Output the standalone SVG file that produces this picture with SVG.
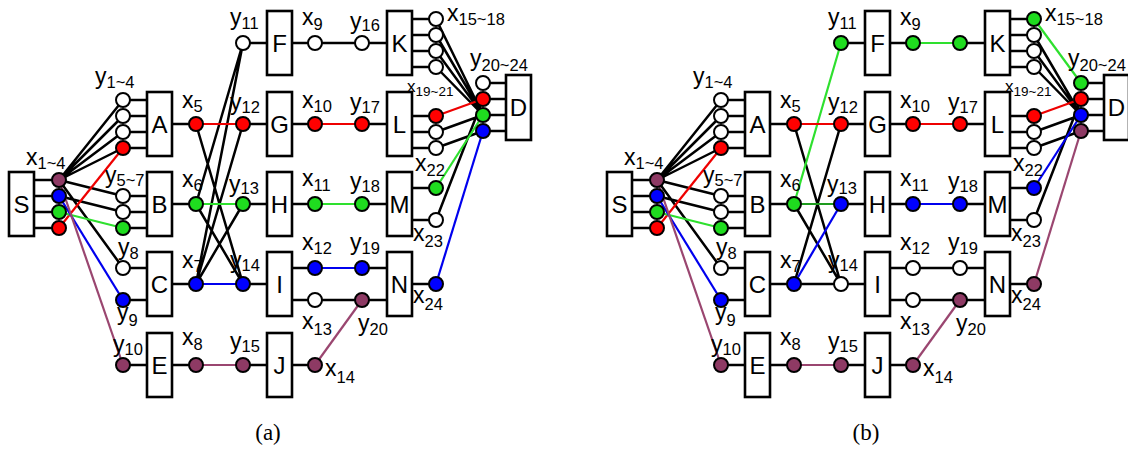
<svg xmlns="http://www.w3.org/2000/svg" width="1128" height="449" viewBox="0 0 1128 449">
<style>
.bx{fill:#fff;stroke:#000;stroke-width:2.6}
.bt{font-family:"Liberation Sans",Arial,sans-serif;font-size:24px;text-anchor:middle}
.l{font-family:"Liberation Sans",Arial,sans-serif;font-size:23px}
.s{font-size:16.5px}
.ls{font-family:"Liberation Sans",Arial,sans-serif;font-size:17px}
.ss{font-size:13.5px}
.cap{font-family:"Liberation Serif","DejaVu Serif",serif;font-size:23px;text-anchor:middle}
.st{stroke:#000;stroke-width:2.5;fill:none}
.k{stroke:#000;stroke-width:2.5;fill:none}
.cr{stroke:#ee0000;stroke-width:2.2;fill:none}
.cg{stroke:#2ee02e;stroke-width:2.2;fill:none}
.cdg{stroke:#1e9a1e;stroke-width:2.2;fill:none}
.cb{stroke:#0000ee;stroke-width:2.2;fill:none}
.cp{stroke:#9a4670;stroke-width:2.2;fill:none}
circle{stroke:#000;stroke-width:2;r:7}
.w{fill:#fff}.r{fill:#ff0000}.g{fill:#1fdc1f}.b{fill:#0000ff}.p{fill:#8e3a64}
</style>

<!-- ================= PANEL (a) ================= -->
<g id="panel-a">
<g id="a-connectors">
<path class="k" d="M59 180L123 100M59 180L123 116M59 180L123 132M59 180L123 148M59 180L123 196M59 196L123 212M59 180L123 268"/>
<path class="cr" d="M59 228L123 148"/>
<path class="cg" d="M59 212L123 228"/>
<path class="cb" d="M59 196L123 300"/>
<path class="cp" d="M59 180L123 365"/>
<path class="k" d="M196 204L243 43M196 284L243 43M196 124L243 284M196 204L243 284M196 284L243 124M196 284L243 204"/>
<path class="cr" d="M196 124H243"/>
<path class="cg" d="M196 204H243"/>
<path class="cb" d="M196 284H243"/>
<path class="cp" d="M196 365H243"/>
<path class="k" d="M315 43H362M315 300H362"/>
<path class="cr" d="M315 124H362"/>
<path class="cg" d="M315 204H362"/>
<path class="cb" d="M315 268H362"/>
<path class="cp" d="M315 365L362 300"/>
<path class="k" d="M436 19L483 115M436 35L483 115M436 51L483 115M436 67L483 115M436 132L483 115M436 148L483 131M436 220L483 99"/>
<path class="cr" d="M436 116L483 99"/>
<path class="cg" d="M436 188L483 115"/>
<path class="cb" d="M436 284L483 131"/>
</g>

<g id="a-S">
<path class="st" d="M34 180H59M34 196H59M34 212H59M34 228H59"/>
<rect class="bx" x="9" y="172" width="25" height="64"/>
<text class="bt" x="21.5" y="212.5">S</text>
<circle class="p" cx="59" cy="180"/><circle class="b" cx="59" cy="196"/><circle class="g" cx="59" cy="212"/><circle class="r" cx="59" cy="228"/>
</g>
<g id="a-A">
<path class="st" d="M123 100H147M123 116H147M123 132H147M123 148H147M172 124H196"/>
<rect class="bx" x="147" y="92" width="25" height="64"/>
<text class="bt" x="159.5" y="132.5">A</text>
<circle class="w" cx="123" cy="100"/><circle class="w" cx="123" cy="116"/><circle class="w" cx="123" cy="132"/><circle class="r" cx="123" cy="148"/>
<circle class="r" cx="196" cy="124"/>
</g>
<g id="a-B">
<path class="st" d="M123 196H147M123 212H147M123 228H147M172 204H196"/>
<rect class="bx" x="147" y="172" width="25" height="64"/>
<text class="bt" x="159.5" y="212.5">B</text>
<circle class="w" cx="123" cy="196"/><circle class="w" cx="123" cy="212"/><circle class="g" cx="123" cy="228"/>
<circle class="g" cx="196" cy="204"/>
</g>
<g id="a-C">
<path class="st" d="M123 268H147M123 300H147M172 284H196"/>
<rect class="bx" x="147" y="252" width="25" height="64"/>
<text class="bt" x="159.5" y="292.5">C</text>
<circle class="w" cx="123" cy="268"/><circle class="b" cx="123" cy="300"/>
<circle class="b" cx="196" cy="284"/>
</g>
<g id="a-E">
<path class="st" d="M123 365H147M172 365H196"/>
<rect class="bx" x="147" y="333" width="25" height="64"/>
<text class="bt" x="159.5" y="373.5">E</text>
<circle class="p" cx="123" cy="365"/><circle class="p" cx="196" cy="365"/>
</g>
<g id="a-F">
<path class="st" d="M243 43H267M292 43H315"/>
<rect class="bx" x="267" y="11" width="25" height="64"/>
<text class="bt" x="279.5" y="51.5">F</text>
<circle class="w" cx="243" cy="43"/><circle class="w" cx="315" cy="43"/>
</g>
<g id="a-G">
<path class="st" d="M243 124H267M292 124H315"/>
<rect class="bx" x="267" y="92" width="25" height="64"/>
<text class="bt" x="279.5" y="132.5">G</text>
<circle class="r" cx="243" cy="124"/><circle class="r" cx="315" cy="124"/>
</g>
<g id="a-H">
<path class="st" d="M243 204H267M292 204H315"/>
<rect class="bx" x="267" y="172" width="25" height="64"/>
<text class="bt" x="279.5" y="212.5">H</text>
<circle class="g" cx="243" cy="204"/><circle class="g" cx="315" cy="204"/>
</g>
<g id="a-I">
<path class="st" d="M243 284H267M292 268H315M292 300H315"/>
<rect class="bx" x="267" y="252" width="25" height="64"/>
<text class="bt" x="279.5" y="292.5">I</text>
<circle class="b" cx="243" cy="284"/><circle class="b" cx="315" cy="268"/><circle class="w" cx="315" cy="300"/>
</g>
<g id="a-J">
<path class="st" d="M243 365H267M292 365H315"/>
<rect class="bx" x="267" y="333" width="25" height="64"/>
<text class="bt" x="279.5" y="373.5">J</text>
<circle class="p" cx="243" cy="365"/><circle class="p" cx="315" cy="365"/>
</g>
<g id="a-K">
<path class="st" d="M362 43H387M412 19H436M412 35H436M412 51H436M412 67H436"/>
<rect class="bx" x="387" y="11" width="25" height="64"/>
<text class="bt" x="399.5" y="51.5">K</text>
<circle class="w" cx="362" cy="43"/>
<circle class="w" cx="436" cy="19"/><circle class="w" cx="436" cy="35"/><circle class="w" cx="436" cy="51"/><circle class="w" cx="436" cy="67"/>
</g>
<g id="a-L">
<path class="st" d="M362 124H387M412 116H436M412 132H436M412 148H436"/>
<rect class="bx" x="387" y="92" width="25" height="64"/>
<text class="bt" x="399.5" y="132.5">L</text>
<circle class="r" cx="362" cy="124"/>
<circle class="r" cx="436" cy="116"/><circle class="w" cx="436" cy="132"/><circle class="w" cx="436" cy="148"/>
</g>
<g id="a-M">
<path class="st" d="M362 204H387M412 188H436M412 220H436"/>
<rect class="bx" x="387" y="172" width="25" height="64"/>
<text class="bt" x="399.5" y="212.5">M</text>
<circle class="g" cx="362" cy="204"/>
<circle class="g" cx="436" cy="188"/><circle class="w" cx="436" cy="220"/>
</g>
<g id="a-N">
<path class="st" d="M362 268H387M362 300H387M412 284H436"/>
<rect class="bx" x="387" y="252" width="25" height="64"/>
<text class="bt" x="399.5" y="292.5">N</text>
<circle class="b" cx="362" cy="268"/><circle class="p" cx="362" cy="300"/>
<circle class="b" cx="436" cy="284"/>
</g>
<g id="a-D">
<path class="st" d="M483 83H506M483 99H506M483 115H506M483 131H506"/>
<rect class="bx" x="506" y="75" width="25" height="65"/>
<text class="bt" x="518.5" y="116">D</text>
<circle class="w" cx="483" cy="83"/><circle class="r" cx="483" cy="99"/><circle class="g" cx="483" cy="115"/><circle class="b" cx="483" cy="131"/>
</g>

<g id="a-labels">
<text class="l" x="26" y="165">x<tspan class="s" dy="4">1~4</tspan></text>
<text class="l" x="95" y="84">y<tspan class="s" dy="4">1~4</tspan></text>
<text class="l" x="105" y="183">y<tspan class="s" dy="3">5~7</tspan></text>
<text class="l" x="118" y="255">y<tspan class="s" dy="4">8</tspan></text>
<text class="l" x="117" y="320">y<tspan class="s" dy="6">9</tspan></text>
<text class="l" x="113" y="352">y<tspan class="s" dy="3">10</tspan></text>
<text class="l" x="182" y="108">x<tspan class="s" dy="4">5</tspan></text>
<text class="l" x="182" y="187">x<tspan class="s" dy="4">6</tspan></text>
<text class="l" x="182" y="268">x<tspan class="s" dy="4">7</tspan></text>
<text class="l" x="182" y="345">x<tspan class="s" dy="5">8</tspan></text>
<text class="l" x="230" y="25">y<tspan class="s" dy="4">11</tspan></text>
<text class="l" x="230" y="110">y<tspan class="s" dy="3">12</tspan></text>
<text class="l" x="229" y="192">y<tspan class="s" dy="2">13</tspan></text>
<text class="l" x="230" y="268">y<tspan class="s" dy="3">14</tspan></text>
<text class="l" x="230" y="349">y<tspan class="s" dy="3">15</tspan></text>
<text class="l" x="302" y="25">x<tspan class="s" dy="5">9</tspan></text>
<text class="l" x="302" y="108">x<tspan class="s" dy="4">10</tspan></text>
<text class="l" x="302" y="186">x<tspan class="s" dy="5">11</tspan></text>
<text class="l" x="302" y="250">x<tspan class="s" dy="4">12</tspan></text>
<text class="l" x="302" y="329">x<tspan class="s" dy="6">13</tspan></text>
<text class="l" x="325" y="376">x<tspan class="s" dy="7">14</tspan></text>
<text class="l" x="350" y="29">y<tspan class="s" dy="2">16</tspan></text>
<text class="l" x="350" y="110">y<tspan class="s" dy="3">17</tspan></text>
<text class="l" x="350" y="189">y<tspan class="s" dy="3">18</tspan></text>
<text class="l" x="350" y="250">y<tspan class="s" dy="4">19</tspan></text>
<text class="l" x="358" y="331">y<tspan class="s" dy="4">20</tspan></text>
<text class="l" x="447" y="21">x<tspan class="s" dy="4">15~18</tspan></text>
<text class="l" x="470" y="66">y<tspan class="s" dy="5">20~24</tspan></text>
<text class="ls" x="407" y="92">x<tspan class="ss" dy="4">19~21</tspan></text>
<text class="l" x="415" y="171">x<tspan class="s" dy="5">22</tspan></text>
<text class="l" x="413" y="241">x<tspan class="s" dy="6">23</tspan></text>
<text class="l" x="413" y="303">x<tspan class="s" dy="7">24</tspan></text>
</g>
<text class="cap" x="268" y="440">(a)</text>
</g>

<!-- ================= PANEL (b) ================= -->
<g id="panel-b" transform="translate(598,0)">
<g id="b-connectors">
<path class="k" d="M59 180L123 100M59 180L123 116M59 180L123 132M59 180L123 148M59 180L123 196M59 196L123 212M59 180L123 268"/>
<path class="cr" d="M59 228L123 148"/>
<path class="cg" d="M59 212L123 228"/>
<path class="cb" d="M59 196L123 300"/>
<path class="cp" d="M59 180L123 365"/>
<path class="k" d="M196 124L243 284M196 204L243 284M196 284L243 124M196 284H243"/>
<path class="cg" d="M196 204L243 43"/>
<path class="cdg" d="M196 204H243"/>
<path class="cb" d="M196 284L243 204"/>
<path class="cr" d="M196 124H243"/>
<path class="cp" d="M196 365H243"/>
<path class="cg" d="M315 43H362"/>
<path class="cr" d="M315 124H362"/>
<path class="cb" d="M315 204H362"/>
<path class="k" d="M315 268H362M315 300H362"/>
<path class="cp" d="M315 365L362 300"/>
<path class="cg" d="M436 19L483 83"/>
<path class="k" d="M436 35L483 115M436 51L483 115M436 67L483 115M436 132L483 115M436 148L483 131M436 220L483 99"/>
<path class="cr" d="M436 116L483 99"/>
<path class="cb" d="M436 188L483 115"/>
<path class="cp" d="M436 284L483 131"/>
</g>

<g id="b-S">
<path class="st" d="M34 180H59M34 196H59M34 212H59M34 228H59"/>
<rect class="bx" x="9" y="172" width="25" height="64"/>
<text class="bt" x="21.5" y="212.5">S</text>
<circle class="p" cx="59" cy="180"/><circle class="b" cx="59" cy="196"/><circle class="g" cx="59" cy="212"/><circle class="r" cx="59" cy="228"/>
</g>
<g id="b-A">
<path class="st" d="M123 100H147M123 116H147M123 132H147M123 148H147M172 124H196"/>
<rect class="bx" x="147" y="92" width="25" height="64"/>
<text class="bt" x="159.5" y="132.5">A</text>
<circle class="w" cx="123" cy="100"/><circle class="w" cx="123" cy="116"/><circle class="w" cx="123" cy="132"/><circle class="r" cx="123" cy="148"/>
<circle class="r" cx="196" cy="124"/>
</g>
<g id="b-B">
<path class="st" d="M123 196H147M123 212H147M123 228H147M172 204H196"/>
<rect class="bx" x="147" y="172" width="25" height="64"/>
<text class="bt" x="159.5" y="212.5">B</text>
<circle class="w" cx="123" cy="196"/><circle class="w" cx="123" cy="212"/><circle class="g" cx="123" cy="228"/>
<circle class="g" cx="196" cy="204"/>
</g>
<g id="b-C">
<path class="st" d="M123 268H147M123 300H147M172 284H196"/>
<rect class="bx" x="147" y="252" width="25" height="64"/>
<text class="bt" x="159.5" y="292.5">C</text>
<circle class="w" cx="123" cy="268"/><circle class="b" cx="123" cy="300"/>
<circle class="b" cx="196" cy="284"/>
</g>
<g id="b-E">
<path class="st" d="M123 365H147M172 365H196"/>
<rect class="bx" x="147" y="333" width="25" height="64"/>
<text class="bt" x="159.5" y="373.5">E</text>
<circle class="p" cx="123" cy="365"/><circle class="p" cx="196" cy="365"/>
</g>
<g id="b-F">
<path class="st" d="M243 43H267M292 43H315"/>
<rect class="bx" x="267" y="11" width="25" height="64"/>
<text class="bt" x="279.5" y="51.5">F</text>
<circle class="g" cx="243" cy="43"/><circle class="g" cx="315" cy="43"/>
</g>
<g id="b-G">
<path class="st" d="M243 124H267M292 124H315"/>
<rect class="bx" x="267" y="92" width="25" height="64"/>
<text class="bt" x="279.5" y="132.5">G</text>
<circle class="r" cx="243" cy="124"/><circle class="r" cx="315" cy="124"/>
</g>
<g id="b-H">
<path class="st" d="M243 204H267M292 204H315"/>
<rect class="bx" x="267" y="172" width="25" height="64"/>
<text class="bt" x="279.5" y="212.5">H</text>
<circle class="b" cx="243" cy="204"/><circle class="b" cx="315" cy="204"/>
</g>
<g id="b-I">
<path class="st" d="M243 284H267M292 268H315M292 300H315"/>
<rect class="bx" x="267" y="252" width="25" height="64"/>
<text class="bt" x="279.5" y="292.5">I</text>
<circle class="w" cx="243" cy="284"/><circle class="w" cx="315" cy="268"/><circle class="w" cx="315" cy="300"/>
</g>
<g id="b-J">
<path class="st" d="M243 365H267M292 365H315"/>
<rect class="bx" x="267" y="333" width="25" height="64"/>
<text class="bt" x="279.5" y="373.5">J</text>
<circle class="p" cx="243" cy="365"/><circle class="p" cx="315" cy="365"/>
</g>
<g id="b-K">
<path class="st" d="M362 43H387M412 19H436M412 35H436M412 51H436M412 67H436"/>
<rect class="bx" x="387" y="11" width="25" height="64"/>
<text class="bt" x="399.5" y="51.5">K</text>
<circle class="g" cx="362" cy="43"/>
<circle class="g" cx="436" cy="19"/><circle class="w" cx="436" cy="35"/><circle class="w" cx="436" cy="51"/><circle class="w" cx="436" cy="67"/>
</g>
<g id="b-L">
<path class="st" d="M362 124H387M412 116H436M412 132H436M412 148H436"/>
<rect class="bx" x="387" y="92" width="25" height="64"/>
<text class="bt" x="399.5" y="132.5">L</text>
<circle class="r" cx="362" cy="124"/>
<circle class="r" cx="436" cy="116"/><circle class="w" cx="436" cy="132"/><circle class="w" cx="436" cy="148"/>
</g>
<g id="b-M">
<path class="st" d="M362 204H387M412 188H436M412 220H436"/>
<rect class="bx" x="387" y="172" width="25" height="64"/>
<text class="bt" x="399.5" y="212.5">M</text>
<circle class="b" cx="362" cy="204"/>
<circle class="b" cx="436" cy="188"/><circle class="w" cx="436" cy="220"/>
</g>
<g id="b-N">
<path class="st" d="M362 268H387M362 300H387M412 284H436"/>
<rect class="bx" x="387" y="252" width="25" height="64"/>
<text class="bt" x="399.5" y="292.5">N</text>
<circle class="w" cx="362" cy="268"/><circle class="p" cx="362" cy="300"/>
<circle class="p" cx="436" cy="284"/>
</g>
<g id="b-D">
<path class="st" d="M483 83H506M483 99H506M483 115H506M483 131H506"/>
<rect class="bx" x="506" y="75" width="25" height="65"/>
<text class="bt" x="518.5" y="116">D</text>
<circle class="g" cx="483" cy="83"/><circle class="r" cx="483" cy="99"/><circle class="b" cx="483" cy="115"/><circle class="p" cx="483" cy="131"/>
</g>

<g id="b-labels">
<text class="l" x="26" y="165">x<tspan class="s" dy="4">1~4</tspan></text>
<text class="l" x="95" y="84">y<tspan class="s" dy="4">1~4</tspan></text>
<text class="l" x="105" y="183">y<tspan class="s" dy="3">5~7</tspan></text>
<text class="l" x="118" y="255">y<tspan class="s" dy="4">8</tspan></text>
<text class="l" x="117" y="320">y<tspan class="s" dy="6">9</tspan></text>
<text class="l" x="113" y="352">y<tspan class="s" dy="3">10</tspan></text>
<text class="l" x="182" y="108">x<tspan class="s" dy="4">5</tspan></text>
<text class="l" x="182" y="187">x<tspan class="s" dy="4">6</tspan></text>
<text class="l" x="182" y="268">x<tspan class="s" dy="4">7</tspan></text>
<text class="l" x="182" y="345">x<tspan class="s" dy="5">8</tspan></text>
<text class="l" x="230" y="25">y<tspan class="s" dy="4">11</tspan></text>
<text class="l" x="230" y="110">y<tspan class="s" dy="3">12</tspan></text>
<text class="l" x="229" y="192">y<tspan class="s" dy="2">13</tspan></text>
<text class="l" x="230" y="268">y<tspan class="s" dy="3">14</tspan></text>
<text class="l" x="230" y="349">y<tspan class="s" dy="3">15</tspan></text>
<text class="l" x="302" y="25">x<tspan class="s" dy="5">9</tspan></text>
<text class="l" x="302" y="108">x<tspan class="s" dy="4">10</tspan></text>
<text class="l" x="302" y="186">x<tspan class="s" dy="5">11</tspan></text>
<text class="l" x="302" y="250">x<tspan class="s" dy="4">12</tspan></text>
<text class="l" x="302" y="329">x<tspan class="s" dy="6">13</tspan></text>
<text class="l" x="325" y="376">x<tspan class="s" dy="7">14</tspan></text>
<text class="l" x="350" y="110">y<tspan class="s" dy="3">17</tspan></text>
<text class="l" x="350" y="189">y<tspan class="s" dy="3">18</tspan></text>
<text class="l" x="350" y="250">y<tspan class="s" dy="4">19</tspan></text>
<text class="l" x="358" y="331">y<tspan class="s" dy="4">20</tspan></text>
<text class="l" x="447" y="21">x<tspan class="s" dy="4">15~18</tspan></text>
<text class="l" x="470" y="66">y<tspan class="s" dy="5">20~24</tspan></text>
<text class="ls" x="407" y="92">x<tspan class="ss" dy="4">19~21</tspan></text>
<text class="l" x="415" y="171">x<tspan class="s" dy="5">22</tspan></text>
<text class="l" x="413" y="241">x<tspan class="s" dy="6">23</tspan></text>
<text class="l" x="413" y="303">x<tspan class="s" dy="7">24</tspan></text>
</g>
<text class="cap" x="268" y="440">(b)</text>
</g>
</svg>
